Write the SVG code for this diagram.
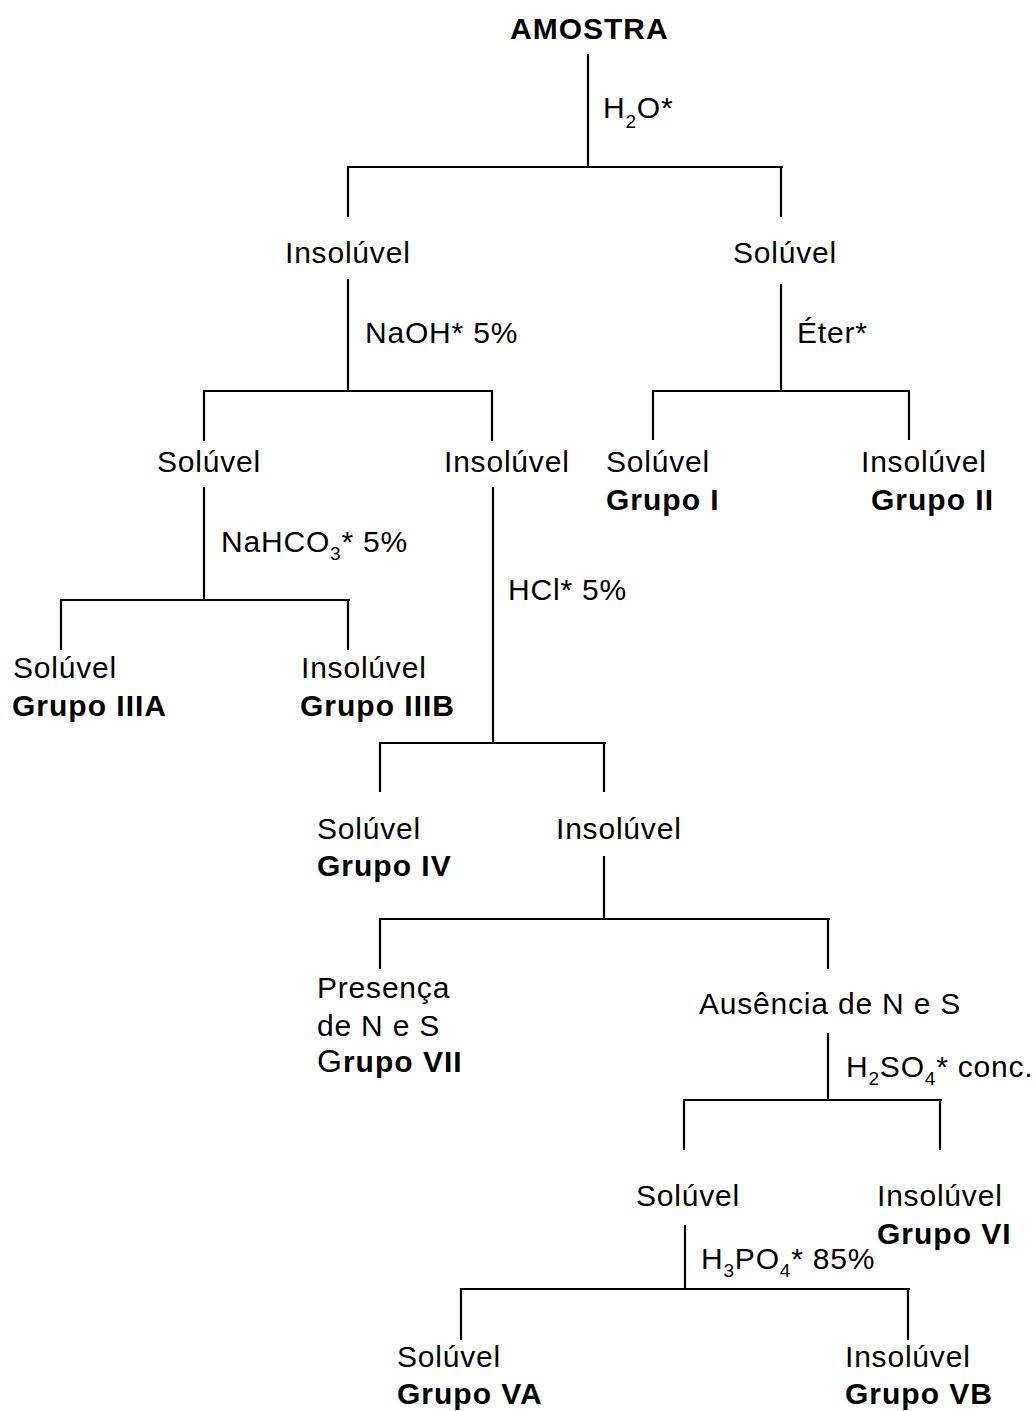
<svg xmlns="http://www.w3.org/2000/svg" width="1035" height="1411" viewBox="0 0 1035 1411">
<style>
text{font-family:"Liberation Sans",Arial,sans-serif;font-size:30px;fill:#000;letter-spacing:0.8px}
.b{font-weight:bold;letter-spacing:1px}
.sub{font-size:19px}
line,path{stroke:#000;stroke-width:2.2;fill:none}
</style>
<rect width="1035" height="1411" fill="#fff"/>
<g id="connectors">
<path d="M588 54V167M348 217V167H783M781 167V217"/>
<path d="M348 279V391M204 441V391H493M492 391V441"/>
<path d="M781 284V391M653 440V391H910M909 391V440"/>
<path d="M204 487V600M61 650V600H350M348 600V650"/>
<path d="M493 487V743M380 792V743H606M604 743V792"/>
<path d="M604 856V919M380 969V919H830M828 919V969"/>
<path d="M828 1033V1100M684 1150V1100H942M940 1100V1150"/>
<path d="M685 1225V1289M461 1340V1289H910M908 1289V1340"/>
</g>
<g id="n-amostra"><text class="b" x="510" y="39">AMOSTRA</text></g>
<g id="l-h2o"><text x="603" y="118">H<tspan class="sub" dy="10">2</tspan><tspan dy="-10">O*</tspan></text></g>
<g id="n-insol1"><text x="285" y="263">Insolúvel</text></g>
<g id="n-sol1"><text x="733" y="263">Solúvel</text></g>
<g id="l-naoh"><text x="365" y="343">NaOH* 5%</text></g>
<g id="l-eter"><text x="797" y="343">Éter*</text></g>
<g id="n-sol2"><text x="157" y="472">Solúvel</text></g>
<g id="n-insol2"><text x="444" y="472">Insolúvel</text></g>
<g id="n-g1"><text x="606" y="472">Solúvel</text><text class="b" x="606" y="510">Grupo I</text></g>
<g id="n-g2"><text x="861" y="472">Insolúvel</text><text class="b" x="871" y="510">Grupo II</text></g>
<g id="l-nahco3"><text x="221" y="552">NaHCO<tspan class="sub" dy="8">3</tspan><tspan dy="-8">* 5%</tspan></text></g>
<g id="l-hcl"><text x="508" y="600">HCl* 5%</text></g>
<g id="n-g3a"><text x="13" y="678">Solúvel</text><text class="b" x="12" y="716">Grupo IIIA</text></g>
<g id="n-g3b"><text x="301" y="678">Insolúvel</text><text class="b" x="300" y="716">Grupo IIIB</text></g>
<g id="n-g4"><text x="317" y="839">Solúvel</text><text class="b" x="317" y="876">Grupo IV</text></g>
<g id="n-insol3"><text x="556" y="839">Insolúvel</text></g>
<g id="n-g7"><text x="317" y="998">Presença</text><text x="317" y="1036">de N e S</text><text class="b" x="317" y="1072"><tspan font-weight="normal" font-size="32">G</tspan>rupo VII</text></g>
<g id="n-ausencia"><text x="699" y="1014">Ausência de N e S</text></g>
<g id="l-h2so4"><text x="846" y="1077">H<tspan class="sub" dy="8">2</tspan><tspan dy="-8">SO</tspan><tspan class="sub" dy="8">4</tspan><tspan dy="-8">* conc.</tspan></text></g>
<g id="n-sol4"><text x="636" y="1206">Solúvel</text></g>
<g id="n-g6"><text x="877" y="1206">Insolúvel</text><text class="b" x="877" y="1244">Grupo VI</text></g>
<g id="l-h3po4"><text x="701" y="1269">H<tspan class="sub" dy="8">3</tspan><tspan dy="-8">PO</tspan><tspan class="sub" dy="8">4</tspan><tspan dy="-8">* 85%</tspan></text></g>
<g id="n-g5a"><text x="397" y="1367">Solúvel</text><text class="b" x="397" y="1404">Grupo VA</text></g>
<g id="n-g5b"><text x="845" y="1367">Insolúvel</text><text class="b" x="845" y="1404">Grupo VB</text></g>
</svg>
